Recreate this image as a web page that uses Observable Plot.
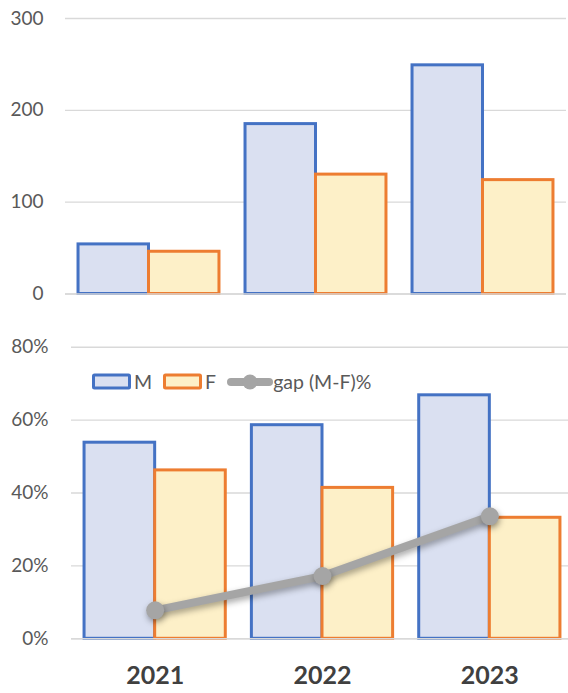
<!DOCTYPE html>
<html>
<head>
<meta charset="utf-8">
<script src="https://cdn.jsdelivr.net/npm/d3@7"></script>
<script src="https://cdn.jsdelivr.net/npm/@observablehq/plot@0.6"></script>
<style>
  html, body { margin: 0; padding: 0; background: #fff; overflow: hidden; }
  #wrap { position: relative; width: 568px; height: 693px; font-family: Lato, "Open Sans", sans-serif; }
  #wrap svg { display: block; }
  #legend { position: absolute; left: 92px; top: 370px; display: flex; align-items: center; font-size: 19.5px; color: #595959; white-space: nowrap; }
  #legend .item { display: flex; align-items: center; margin-right: 3px; }
  #legend svg { display: block; }
</style>
</head>
<body>
<div id="wrap"></div>
<script>
// ---- data ----
const years = [2021, 2022, 2023];
const countM = [54, 185, 249];
const countF = [46, 130, 124];
const pctM = [53.8, 58.6, 66.8];
const pctF = [46.2, 41.4, 33.2];
const gapPct = [7.8, 17.2, 33.6];
const countTicks = [0, 100, 200, 300];
const pctTicks = [0, 20, 40, 60, 80];
const seriesNames = ["M", "F", "gap (M-F)%"];

// ---- styles ----
const mFill = "#DAE0F1", mStroke = "#4472C4";
const fFill = "#FDF0C8", fStroke = "#ED7D31";
const gapColor = "#A5A5A5";
const gridColor = "#D9D9D9";
const half = 0.422; // half of a year group width, in year units

const rows = years.map((y, i) => ({
  year: y, cm: countM[i], cf: countF[i], pm: pctM[i], pf: pctF[i], gap: gapPct[i]
}));

const wrap = document.getElementById("wrap");

// ---- top panel: counts ----
const topChart = Plot.plot({
  width: 568, height: 310,
  marginLeft: 65, marginRight: 2, marginTop: 18, marginBottom: 16.5,
  style: { fontFamily: "Lato, 'Open Sans', sans-serif", fontSize: "19px", color: "#595959", background: "#fff", overflow: "visible" },
  x: { type: "linear", domain: [2020.5, 2023.5], range: [65, 566], axis: null },
  y: { domain: [0, 300] },
  marks: [
    Plot.ruleY(countTicks, { stroke: gridColor, strokeWidth: 1.4 }),
    Plot.rectY(rows, { x1: d => d.year - half, x2: d => d.year, y1: 0, y2: "cm", fill: mFill, stroke: mStroke, strokeWidth: 3, inset: 0 }),
    Plot.rectY(rows, { x1: d => d.year, x2: d => d.year + half, y1: 0, y2: "cf", fill: fFill, stroke: fStroke, strokeWidth: 3, inset: 0 }),
    Plot.ruleY([0], { stroke: gridColor, strokeWidth: 1.4 }),
    Plot.axisY({ ticks: countTicks, tickSize: 0, tickPadding: 22, fill: "#595959", label: null })
  ]
});
wrap.appendChild(topChart);

// ---- bottom panel: shares ----
const bottomChart = Plot.plot({
  width: 568, height: 383,
  marginLeft: 71, marginRight: -5, marginTop: 36.7, marginBottom: 54.7,
  style: { fontFamily: "Lato, 'Open Sans', sans-serif", fontSize: "19px", color: "#595959", background: "#fff", overflow: "hidden" },
  x: { type: "linear", domain: [2020.5, 2023.5], range: [71, 573] },
  y: { domain: [0, 80] },
  marks: [
    Plot.ruleY(pctTicks, { stroke: gridColor, strokeWidth: 1.4 }),
    Plot.rectY(rows, { x1: d => d.year - half, x2: d => d.year, y1: 0, y2: "pm", fill: mFill, stroke: mStroke, strokeWidth: 3, inset: 0 }),
    Plot.rectY(rows, { x1: d => d.year, x2: d => d.year + half, y1: 0, y2: "pf", fill: fFill, stroke: fStroke, strokeWidth: 3, inset: 0 }),
    Plot.ruleY([0], { stroke: gridColor, strokeWidth: 1.4 }),
    Plot.line(rows, { x: "year", y: "gap", stroke: gapColor, strokeWidth: 8, strokeLinecap: "round", strokeLinejoin: "round" }),
    Plot.dot(rows, { x: "year", y: "gap", r: 9, fill: gapColor, stroke: "none" }),
    Plot.axisY({ ticks: pctTicks, tickFormat: d => d + "%", tickSize: 0, tickPadding: 23, fill: "#595959", label: null }),
    Plot.axisX({ ticks: years, tickFormat: d => String(d), tickSize: 0, tickPadding: 27, fontSize: 25, fontWeight: "bold", fill: "#404040", label: null })
  ]
});
wrap.appendChild(bottomChart);

// soft shadow on the gap line and its markers
bottomChart.querySelectorAll('g[aria-label="line"], g[aria-label="dot"]').forEach(g => {
  g.style.filter = "drop-shadow(1px 3px 3px rgba(0,0,0,0.35))";
});

// ---- legend (HTML, real text) ----
const legend = document.createElement("div");
legend.id = "legend";
function boxSwatch(fill, stroke) {
  const ns = "http://www.w3.org/2000/svg";
  const s = document.createElementNS(ns, "svg");
  s.setAttribute("width", 40); s.setAttribute("height", 17);
  const r = document.createElementNS(ns, "rect");
  r.setAttribute("x", 1.5); r.setAttribute("y", 2); r.setAttribute("width", 36); r.setAttribute("height", 13);
  r.setAttribute("fill", fill); r.setAttribute("stroke", stroke); r.setAttribute("stroke-width", 3); r.setAttribute("rx", 1);
  s.appendChild(r);
  return s;
}
function lineSwatch() {
  const ns = "http://www.w3.org/2000/svg";
  const s = document.createElementNS(ns, "svg");
  s.setAttribute("width", 46); s.setAttribute("height", 20);
  const l = document.createElementNS(ns, "line");
  l.setAttribute("x1", 4); l.setAttribute("x2", 42); l.setAttribute("y1", 10); l.setAttribute("y2", 10);
  l.setAttribute("stroke", gapColor); l.setAttribute("stroke-width", 8); l.setAttribute("stroke-linecap", "round");
  const c = document.createElementNS(ns, "circle");
  c.setAttribute("cx", 23); c.setAttribute("cy", 10); c.setAttribute("r", 7.5); c.setAttribute("fill", gapColor);
  s.appendChild(l); s.appendChild(c);
  return s;
}
const swatches = [boxSwatch(mFill, mStroke), boxSwatch(fFill, fStroke), lineSwatch()];
seriesNames.forEach((name, i) => {
  const item = document.createElement("div");
  item.className = "item";
  item.appendChild(swatches[i]);
  const t = document.createElement("span");
  t.textContent = name;
  t.style.marginLeft = i === 2 ? "0px" : "2px";
  t.style.marginRight = i === 2 ? "0px" : "8px";
  item.appendChild(t);
  legend.appendChild(item);
});
wrap.appendChild(legend);
</script>
</body>
</html>
